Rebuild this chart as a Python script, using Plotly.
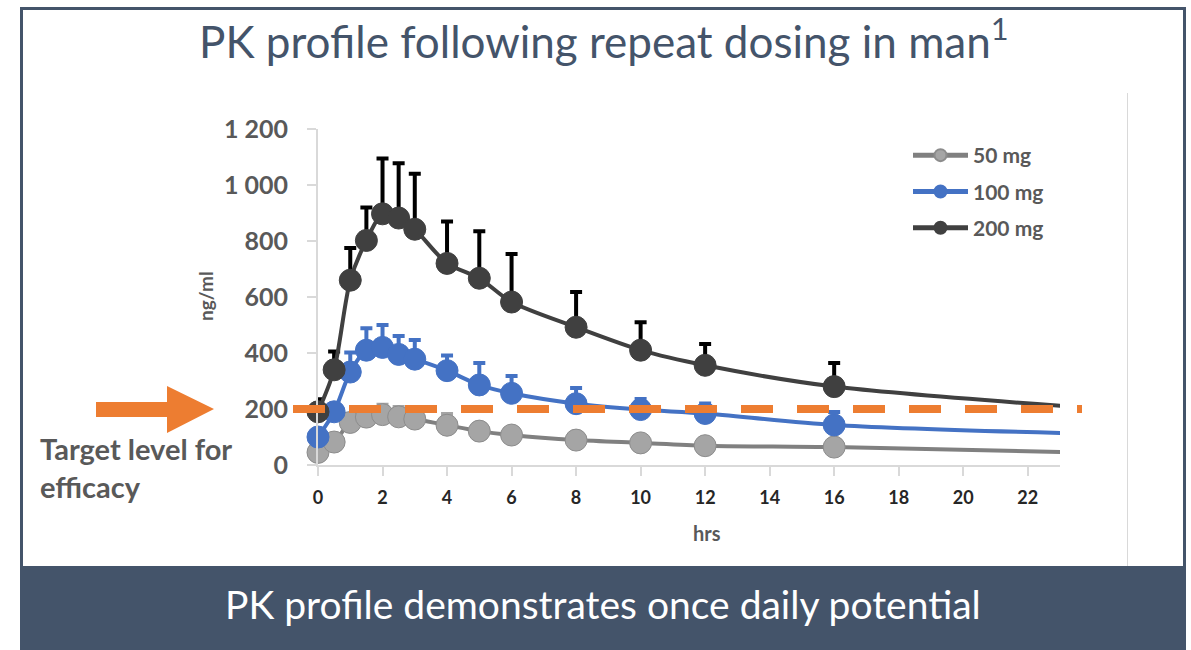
import plotly.graph_objects as go

# ── data ──────────────────────────────────────────────────────────────────────

HOURS = [0, 0.5, 1, 1.5, 2, 2.5, 3, 4, 5, 6, 8, 10, 12, 16, 24]

CONC_50 = [45, 82, 152, 171, 180, 172, 164, 142, 121, 107, 89, 79, 69, 64, 44]
CONC_100 = [100, 190, 332, 410, 420, 395, 378, 337, 286, 256, 219, 198, 184, 143, 111]
CONC_200 = [190, 340, 660, 802, 897, 882, 842, 720, 667, 582, 492, 410, 356, 280, 203]

# upper error (SD) only; None = no bar drawn
ERR_50 = [None, 15, 30, 35, 35, 35, 30, 40, 25, 20, 20, 15, 12, 12, None]
ERR_100 = [None, 25, 70, 78, 80, 66, 68, 54, 78, 62, 56, 38, 36, 46, None]
ERR_200 = [45, 65, 115, 118, 198, 196, 198, 150, 168, 172, 126, 100, 76, 84, None]

SERIES = ["50 mg", "100 mg", "200 mg"]
TARGET_LEVEL = 200

X_MAX = 23
Y_MAX = 1200

# ── sizing / styling ──────────────────────────────────────────────────────────

W, H = 1191, 650
L, R, T, B = 318, 1060, 129, 465  # plot area in pixels

SLATE = "#44546A"
ORANGE = "#ED7D31"
LABEL_GREY = "#595959"
AXIS_GREY = "#D9D9D9"
FONT = "Lato"

STYLES = {
    "50 mg": dict(line="#808080", marker="#A5A5A5", outline="#8C8C8C", err="#A5A5A5"),
    "100 mg": dict(line="#4472C4", marker="#4472C4", outline="#4472C4", err="#4472C4"),
    "200 mg": dict(line="#404040", marker="#404040", outline="#404040", err="#000000"),
}


def px(x):
    return (x - L) / (R - L)


def py(y):
    return (B - y) / (B - T)


# ── figure ────────────────────────────────────────────────────────────────────

fig = go.Figure()

for name, conc, err in zip(SERIES, [CONC_50, CONC_100, CONC_200], [ERR_50, ERR_100, ERR_200]):
    st = STYLES[name]
    # the last sample (24 h) only shapes the curve beyond the axis end
    sizes = [22 if h <= X_MAX else 0 for h in HOURS]
    fig.add_trace(
        go.Scatter(
            x=HOURS,
            y=conc,
            name=name,
            mode="lines+markers",
            line=dict(color=st["line"], width=4, shape="spline", smoothing=0.8),
            marker=dict(
                size=sizes,
                opacity=1,
                color=st["marker"],
                line=dict(color=st["outline"], width=1),
            ),
            error_y=dict(
                type="data",
                symmetric=False,
                array=err,
                arrayminus=[0] * len(err),
                color=st["err"],
                thickness=4,
                width=6,
            ),
            cliponaxis=False,
            legendgroup=name,
        )
    )

shapes = [
    # slide frame
    dict(type="line", x0=px(20), x1=px(1186), y0=py(8.5), y1=py(8.5), line=dict(color=SLATE, width=3)),
    dict(type="line", x0=px(21.5), x1=px(21.5), y0=py(8), y1=py(650), line=dict(color=SLATE, width=3)),
    dict(type="line", x0=px(1184.5), x1=px(1184.5), y0=py(8), y1=py(650), line=dict(color=SLATE, width=3)),
    # chart object right border
    dict(type="line", x0=px(1127.5), x1=px(1127.5), y0=py(93), y1=py(566), line=dict(color=AXIS_GREY, width=1)),
    # bottom banner
    dict(type="rect", x0=px(20), x1=px(1186), y0=py(566), y1=py(652), line=dict(width=0), fillcolor=SLATE),
    # target level dashed line
    dict(
        type="line",
        x0=px(293),
        x1=px(1082),
        y0=TARGET_LEVEL / Y_MAX,
        y1=TARGET_LEVEL / Y_MAX,
        line=dict(color=ORANGE, width=8, dash="32px,24px"),
        layer="above",
    ),
    # orange block arrow
    dict(
        type="path",
        path="M{},{} L{},{} L{},{} L{},{} L{},{} L{},{} L{},{} Z".format(
            px(96), py(402), px(167), py(402), px(167), py(386), px(214), py(409),
            px(167), py(433), px(167), py(417), px(96), py(417),
        ),
        fillcolor=ORANGE,
        line=dict(width=0),
    ),
]
for s in shapes:
    s.setdefault("xref", "paper")
    s.setdefault("yref", "paper")

annotations = [
    dict(
        text="PK profile following repeat dosing in man<sup>1</sup>",
        x=px(604), y=py(38), xanchor="center", yanchor="middle",
        font=dict(family=FONT, size=44, color=SLATE, weight=400),
    ),
    dict(
        text="PK profile demonstrates once daily potential",
        x=px(603), y=py(604), xanchor="center", yanchor="middle",
        font=dict(family=FONT, size=39, color="white", weight=400),
    ),
    dict(
        text="Target level for<br>efficacy",
        x=px(38), y=py(467), xanchor="left", yanchor="middle", align="left",
        font=dict(family=FONT, size=29, color=LABEL_GREY, weight="bold"),
    ),
    dict(
        text="ng/ml",
        x=px(205), y=py(296), xanchor="center", yanchor="middle", textangle=-90,
        font=dict(family=FONT, size=19, color=LABEL_GREY, weight="bold"),
    ),
    dict(
        text="hrs",
        x=px(707), y=py(533), xanchor="center", yanchor="middle",
        font=dict(family=FONT, size=20, color=LABEL_GREY, weight="bold"),
    ),
]
for a in annotations:
    a.update(xref="paper", yref="paper", showarrow=False)

fig.update_layout(
    width=W,
    height=H,
    margin=dict(l=L, r=W - R, t=T, b=H - B, pad=0),
    paper_bgcolor="white",
    plot_bgcolor="white",
    separators=". ",
    shapes=shapes,
    annotations=annotations,
    showlegend=True,
    legend=dict(
        x=px(908),
        y=py(135),
        xanchor="left",
        yanchor="top",
        bgcolor="rgba(0,0,0,0)",
        font=dict(family=FONT, size=21, color=LABEL_GREY, weight="bold"),
        traceorder="grouped",
        tracegroupgap=6,
        itemwidth=55,
        itemsizing="constant",
    ),
)

fig.update_xaxes(
    range=[0, X_MAX],
    tick0=0,
    dtick=2,
    showgrid=False,
    zeroline=False,
    showline=True,
    linecolor=AXIS_GREY,
    linewidth=2,
    ticks="outside",
    ticklen=9,
    tickwidth=2,
    tickcolor=AXIS_GREY,
    ticklabelstandoff=6,
    tickfont=dict(family=FONT, size=18, color="#262626", weight="bold"),
)
fig.update_yaxes(
    range=[0, Y_MAX],
    tick0=0,
    dtick=200,
    tickformat=",d",
    separatethousands=True,
    showgrid=False,
    zeroline=False,
    showline=True,
    linecolor=AXIS_GREY,
    linewidth=2,
    ticks="outside",
    ticklen=9,
    tickwidth=2,
    tickcolor=AXIS_GREY,
    ticklabelstandoff=14,
    tickfont=dict(family=FONT, size=25, color=LABEL_GREY, weight="bold"),
)

# page body has a default 8px margin; drop it so the figure fills the window
fig.write_html(
    "out.html",
    config={"displayModeBar": False},
    post_script="document.body.style.margin = '0';",
)
